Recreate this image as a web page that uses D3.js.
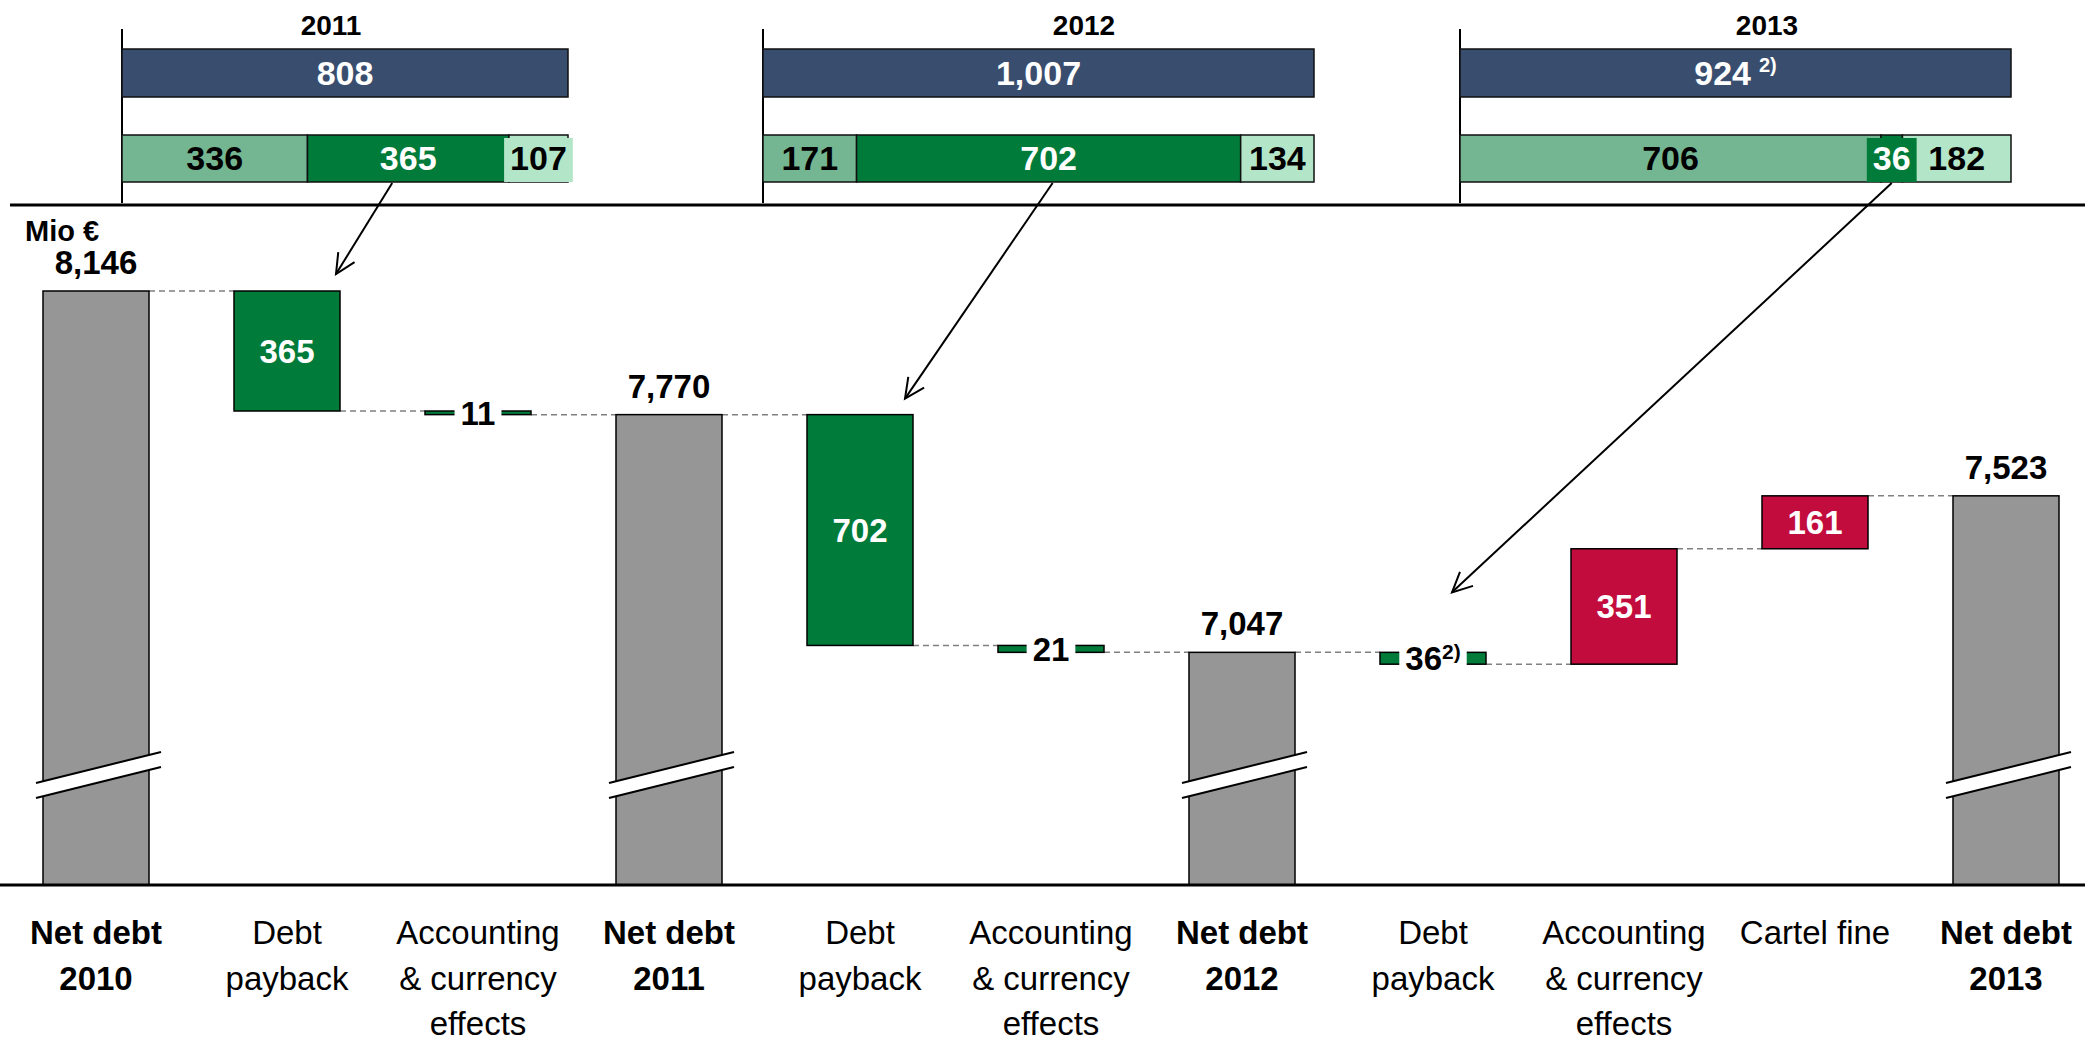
<!DOCTYPE html>
<html><head><meta charset="utf-8">
<script src="https://cdn.jsdelivr.net/npm/d3@7"></script>
<style>body{margin:0;background:#fff;} text{font-family:"Liberation Sans",Arial,Helvetica,sans-serif;}</style>
</head><body><svg id="chart" width="2085" height="1042"></svg>
<script>
// ---------------- DATA ----------------
const categories = ["Net debt|2010","Debt|payback","Accounting|& currency|effects","Net debt|2011","Debt|payback","Accounting|& currency|effects","Net debt|2012","Debt|payback","Accounting|& currency|effects","Cartel fine","Net debt|2013"];
const barTypes = ["total","down","down","total","down","down","total","down","up","up","total"];
const values = [8146,365,11,7770,702,21,7047,36,351,161,7523];
const valueNotes = ["","","","","","","","2)","","",""];

const panelYears = ["2011","2012","2013"];
const panelTotals = [808,1007,924];
const panelTotalNotes = ["","","2)"];
const panelSegments = [[336,365,107],[171,702,134],[706,36,182]];
const panelTargets = [1,4,7];

// ---------------- STYLE / LAYOUT ----------------
const W = 2085, H = 1042;
const colors = {total:"#969696", down:"#007b3a", up:"#c30c3e", navy:"#394e6e",
  seg:["#74b691","#007b3a","#b3e6c8"], segText:["#000","#fff","#000"]};
const baseY = 885;
const panelLeft = [122, 763, 1460], panelRight = [568, 1314, 2011], panelTitleX = [331, 1084, 1767];
const arrowStartDx = [-16, 4, 0];
const arrowTipDx = [-4, -8, -34], arrowTipDy = [-17, -16, -60];
const fontVal = 33;

const svg = d3.select("#chart");
svg.append("rect").attr("width",W).attr("height",H).attr("fill","#fff");

const x = d3.scaleBand().domain(d3.range(categories.length)).range([0.5, 2101.5]).paddingInner(0.445).paddingOuter(0.2225);
const y = d3.scaleLinear().domain([7000, 8146]).range([667.8, 291]);
const fmt = d3.format(",");

// compute waterfall
let level = 0;
const bars = values.map((v,i)=>{
  const t = barTypes[i];
  let top, bot;
  if (t==="total"){ top=v; bot=null; level=v; }
  else if (t==="down"){ top=level; bot=level-v; level=bot; }
  else { bot=level; top=level+v; level=top; }
  return {i, t, v, top, bot, after: level};
});

const g = svg.append("g");

// connectors
bars.slice(0,-1).forEach((b,k)=>{
  const n = bars[k+1];
  g.append("line").attr("x1", x(b.i)+x.bandwidth()).attr("x2", x(n.i))
   .attr("y1", y(b.after)).attr("y2", y(b.after))
   .attr("stroke","#808080").attr("stroke-width",1.5).attr("stroke-dasharray","6,4");
});

// bars
bars.forEach(b=>{
  const y0 = y(b.top), y1 = b.t==="total" ? baseY : y(b.bot);
  g.append("rect").attr("x", x(b.i)).attr("y", y0).attr("width", x.bandwidth()).attr("height", y1-y0)
   .attr("fill", colors[b.t]).attr("stroke","#000").attr("stroke-width",1.5);
});

// breaks on total bars
bars.filter(b=>b.t==="total").forEach(b=>{
  const xl = x(b.i)-7, xr = x(b.i)+x.bandwidth()+12;
  const uL=783, uR=752, th=15;
  g.append("path").attr("d",`M${xl},${uL}L${xr},${uR}L${xr},${uR+th}L${xl},${uL+th}Z`).attr("fill","#fff");
  g.append("line").attr("x1",xl).attr("y1",uL).attr("x2",xr).attr("y2",uR).attr("stroke","#000").attr("stroke-width",2);
  g.append("line").attr("x1",xl).attr("y1",uL+th).attr("x2",xr).attr("y2",uR+th).attr("stroke","#000").attr("stroke-width",2);
});

// lines
svg.append("line").attr("x1",0).attr("x2",W).attr("y1",baseY).attr("y2",baseY).attr("stroke","#000").attr("stroke-width",3);
svg.append("line").attr("x1",10).attr("x2",W).attr("y1",205).attr("y2",205).attr("stroke","#000").attr("stroke-width",3);

// value labels
bars.forEach(b=>{
  const cx = x(b.i)+x.bandwidth()/2;
  if (b.t==="total"){
    g.append("text").attr("x",cx).attr("y",y(b.top)-17).attr("text-anchor","middle")
     .attr("font-size",fontVal).attr("font-weight","bold").text(fmt(b.v));
  } else {
    const y0=y(b.top), y1=y(b.bot), cy=(y0+y1)/2, h=y1-y0;
    if (h>40){
      g.append("text").attr("x",cx).attr("y",cy+fontVal*0.36).attr("text-anchor","middle")
       .attr("font-size",fontVal).attr("font-weight","bold").attr("fill","#fff").text(fmt(b.v));
    } else {
      const bg = g.append("rect").attr("fill","#fff");
      const t = g.append("text").attr("x",cx).attr("y",cy+fontVal*0.36).attr("text-anchor","middle")
       .attr("font-size",fontVal).attr("font-weight","bold").attr("fill","#000");
      t.append("tspan").text(fmt(b.v));
      if (valueNotes[b.i]) t.append("tspan").attr("font-size",21).attr("dy",-11).text(valueNotes[b.i]);
      const bb = t.node().getBBox();
      bg.attr("x", bb.x-6).attr("width", bb.width+12).attr("y", cy-h/2-3).attr("height", h+6);
    }
  }
});

// axis labels
categories.forEach((c,i)=>{
  const cx = x(i)+x.bandwidth()/2;
  const t = g.append("text").attr("text-anchor","middle").attr("font-size",33)
    .attr("font-weight", barTypes[i]==="total" ? "bold" : "normal");
  c.split("|").forEach((ln,k)=>{
    t.append("tspan").attr("x",cx).attr("y",944+k*45.5).text(ln);
  });
});

// Mio €
svg.append("text").attr("x",25).attr("y",241).attr("font-size",29).attr("font-weight","bold").text("Mio €");

// top panels
panelYears.forEach((yr,p)=>{
  const px = d3.scaleLinear().domain([0, panelTotals[p]]).range([panelLeft[p], panelRight[p]]);
  svg.append("line").attr("x1",panelLeft[p]).attr("x2",panelLeft[p]).attr("y1",29).attr("y2",203).attr("stroke","#000").attr("stroke-width",2);
  svg.append("text").attr("x",panelTitleX[p]).attr("y",35).attr("text-anchor","middle").attr("font-size",28).attr("font-weight","bold").text(yr);
  svg.append("rect").attr("x",px(0)).attr("y",49).attr("width",px(panelTotals[p])-px(0)).attr("height",48)
    .attr("fill",colors.navy).attr("stroke","#111").attr("stroke-width",1.5);
  const tt = svg.append("text").attr("x",(px(0)+px(panelTotals[p]))/2).attr("y",73+12).attr("text-anchor","middle")
    .attr("font-size",34).attr("font-weight","bold").attr("fill","#fff");
  tt.append("tspan").text(fmt(panelTotals[p]));
  if (panelTotalNotes[p]) tt.append("tspan").attr("dx",8).attr("dy",-13).attr("font-size",20).text(panelTotalNotes[p]);

  let acc = 0;
  const segInfo = panelSegments[p].map((v,k)=>{ const s={x0:px(acc), x1:px(acc+v), v, k}; acc+=v; return s; });
  segInfo.forEach(s=>{
    svg.append("rect").attr("x",s.x0).attr("y",135).attr("width",s.x1-s.x0).attr("height",47)
      .attr("fill",colors.seg[s.k]).attr("stroke","#111").attr("stroke-width",1.5);
  });
  segInfo.forEach(s=>{
    const cx=(s.x0+s.x1)/2;
    const bg = svg.append("rect").attr("fill",colors.seg[s.k]);
    const t = svg.append("text").attr("x",cx).attr("y",158+12).attr("text-anchor","middle")
      .attr("font-size",34).attr("font-weight","bold").attr("fill",colors.segText[s.k]).text(fmt(s.v));
    const bw = t.node().getBBox().width + 12;
    if (bw > s.x1-s.x0) bg.attr("x",cx-bw/2).attr("width",bw).attr("y",138).attr("height",44);
    else bg.remove();
  });

  // arrow
  const hs = segInfo[1];
  const sx = (hs.x0+hs.x1)/2 + arrowStartDx[p], sy = 183;
  const tb = panelTargets[p];
  const tx = x(tb)+x.bandwidth()+arrowTipDx[p];
  const ty = y(bars[tb].top)+arrowTipDy[p];
  svg.append("line").attr("x1",sx).attr("y1",sy).attr("x2",tx).attr("y2",ty).attr("stroke","#000").attr("stroke-width",2);
  const ang = Math.atan2(ty-sy, tx-sx), L=22, a=0.45;
  const w1=[tx-L*Math.cos(ang-a), ty-L*Math.sin(ang-a)], w2=[tx-L*Math.cos(ang+a), ty-L*Math.sin(ang+a)];
  svg.append("path").attr("d",`M${w1}L${tx},${ty}L${w2}`).attr("fill","none").attr("stroke","#000").attr("stroke-width",2);
});
</script></body></html>
